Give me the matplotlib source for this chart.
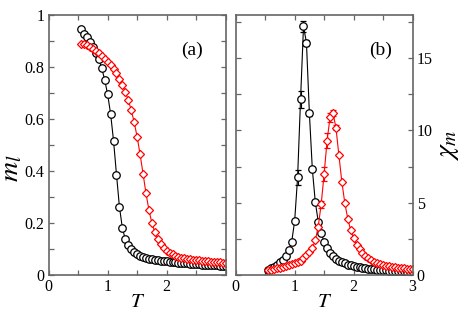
import numpy as np
import matplotlib
matplotlib.use("Agg")
import matplotlib.pyplot as plt

plt.rcParams['font.family'] = ['Liberation Serif', 'DejaVu Serif']
plt.rcParams['mathtext.fontset'] = 'stix'

# temperature grid
T = np.round(np.arange(0.55, 3.0001, 0.05), 2)

# (a) magnetisation m_l
m_black = [0.944, 0.928, 0.913, 0.897, 0.878, 0.855, 0.829, 0.795, 0.750, 0.694,
           0.620, 0.516, 0.386, 0.262, 0.180, 0.137, 0.114, 0.099, 0.088, 0.080,
           0.074, 0.070, 0.066, 0.063, 0.061, 0.059, 0.057, 0.055, 0.054, 0.052,
           0.051, 0.050, 0.049, 0.048, 0.047, 0.046, 0.045, 0.044, 0.043, 0.042,
           0.041, 0.040, 0.040, 0.039, 0.038, 0.038, 0.037, 0.036, 0.036, 0.035]
m_red = [0.889, 0.886, 0.882, 0.876, 0.869, 0.861, 0.852, 0.842, 0.831, 0.819,
         0.806, 0.791, 0.775, 0.755, 0.731, 0.704, 0.672, 0.634, 0.587, 0.531,
         0.464, 0.390, 0.314, 0.250, 0.200, 0.165, 0.139, 0.118, 0.104, 0.093,
         0.085, 0.079, 0.074, 0.070, 0.067, 0.064, 0.062, 0.060, 0.058, 0.057,
         0.056, 0.054, 0.053, 0.052, 0.051, 0.050, 0.050, 0.049, 0.048, 0.047]

# (b) susceptibility chi_m
chi_black = [0.35, 0.45, 0.58, 0.72, 0.88, 1.05, 1.30, 1.70, 2.30, 3.73,
             6.76, 12.15, 17.2, 16.07, 11.18, 7.31, 5.05, 3.69, 2.88, 2.30,
             1.86, 1.55, 1.32, 1.12, 0.98, 0.88, 0.80, 0.72, 0.66, 0.60,
             0.56, 0.52, 0.49, 0.46, 0.43, 0.41, 0.39, 0.37, 0.35, 0.33,
             0.32, 0.30, 0.29, 0.28, 0.27, 0.26, 0.25, 0.24, 0.23, 0.22]
chi_black_err = [0, 0, 0, 0, 0, 0, 0, 0, 0, 0.15,
                 0.5, 0.6, 0.4, 0.2, 0.15, 0, 0, 0, 0, 0,
                 0, 0, 0, 0, 0, 0, 0, 0, 0, 0,
                 0, 0, 0, 0, 0, 0, 0, 0, 0, 0,
                 0, 0, 0, 0, 0, 0, 0, 0, 0, 0]
chi_red = [0.35, 0.38, 0.42, 0.46, 0.50, 0.55, 0.61, 0.68, 0.74, 0.80,
           0.90, 1.00, 1.15, 1.38, 1.60, 1.84, 2.40, 3.35, 4.90, 7.00,
           9.30, 10.9, 11.2, 10.2, 8.30, 6.45, 5.00, 3.90, 3.10, 2.55,
           2.10, 1.78, 1.52, 1.32, 1.16, 1.03, 0.92, 0.83, 0.76, 0.70,
           0.65, 0.60, 0.56, 0.53, 0.50, 0.47, 0.45, 0.43, 0.41, 0.39]
chi_red_err = [0, 0, 0, 0, 0, 0, 0, 0, 0, 0,
               0, 0, 0, 0, 0, 0, 0, 0.1, 0.25, 0.5,
               0.5, 0.3, 0.2, 0.15, 0, 0, 0, 0, 0, 0,
               0, 0, 0, 0, 0, 0, 0, 0, 0, 0,
               0, 0, 0, 0, 0, 0, 0, 0, 0, 0]

# tick positions / labels
t_ticks = [0, 0.5, 1, 1.5, 2, 2.5, 3]
t_labels_a = ['0', '', '1', '', '2', '', '']
t_labels_b = ['0', '', '1', '', '2', '', '3']
m_ticks = [0, 0.1, 0.2, 0.3, 0.4, 0.5, 0.6, 0.7, 0.8, 0.9, 1.0]
m_labels = ['0', '', '0.2', '', '0.4', '', '0.6', '', '0.8', '', '1']
chi_ticks = [0, 2.5, 5, 7.5, 10, 12.5, 15, 17.5]
chi_labels = ['0', '', '5', '', '10', '', '15', '']

axcol = '#666666'
fig = plt.figure(figsize=(4.68, 3.12), dpi=100)
ax1 = fig.add_axes([0.104, 0.1186, 0.378, 0.834])
ax2 = fig.add_axes([0.5036, 0.1186, 0.378, 0.834])

def style(ax):
    for s in ax.spines.values():
        s.set_color(axcol)
        s.set_linewidth(1.2)
    ax.tick_params(which='both', direction='in', top=True, right=True,
                   left=True, bottom=True, length=3.8, width=0.9,
                   color=axcol, labelsize=11.5, pad=3)

# panel (a)
ax1.plot(T, m_black, '-o', color='black', lw=0.8, ms=5.4, mfc='white', mew=0.9)
ax1.plot(T, m_red, '-D', color='red', lw=0.8, ms=3.6, mfc='white', mew=0.9)
ax1.set_xlim(0, 3)
ax1.set_ylim(0, 1)
ax1.set_xticks(t_ticks, t_labels_a)
ax1.set_yticks(m_ticks, m_labels)
style(ax1)
ax1.set_xlabel('$T$', fontsize=15)
ax1.xaxis.set_label_coords(0.5, -0.07)
ax1.set_ylabel('$m_l$', fontsize=20)
ax1.yaxis.set_label_coords(-0.14, 0.41)
ax1.text(0.872, 0.864, '(a)', transform=ax1.transAxes, ha='right', va='center', fontsize=14)

# panel (b)
ax2.errorbar(T, chi_black, yerr=chi_black_err, fmt='-o', color='black', lw=0.8,
             ms=5.4, mfc='white', mew=0.9, capsize=2.5, elinewidth=0.8)
ax2.errorbar(T, chi_red, yerr=chi_red_err, fmt='-D', color='red', lw=0.8,
             ms=3.6, mfc='white', mew=0.9, capsize=2.5, elinewidth=0.8)
ax2.set_xlim(0, 3)
ax2.set_ylim(0, 18)
ax2.set_xticks(t_ticks, t_labels_b)
ax2.set_yticks(chi_ticks, chi_labels)
style(ax2)
ax2.tick_params(labelleft=False, labelright=True)
ax2.set_xlabel('$T$', fontsize=15)
ax2.xaxis.set_label_coords(0.5, -0.07)
ax2.yaxis.set_label_position('right')
ax2.set_ylabel('$\\chi_m$', fontsize=20)
ax2.yaxis.set_label_coords(1.13, 0.5)
ax2.text(0.881, 0.864, '(b)', transform=ax2.transAxes, ha='right', va='center', fontsize=14)

fig.savefig('out.png', dpi=100)
